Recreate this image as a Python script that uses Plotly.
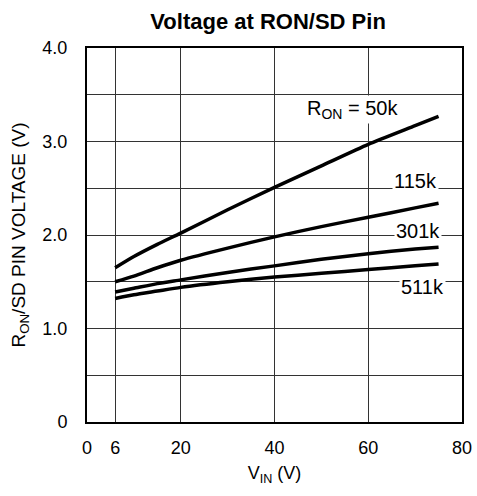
import plotly.graph_objects as go

vin = [6, 10, 15, 20, 30, 40, 50, 60, 70, 75]
v_50k = [1.65, 1.77, 1.90, 2.02, 2.27, 2.51, 2.74, 2.97, 3.17, 3.27]
v_115k = [1.50, 1.56, 1.65, 1.73, 1.86, 1.98, 2.09, 2.19, 2.29, 2.34]
v_301k = [1.39, 1.43, 1.48, 1.52, 1.60, 1.67, 1.74, 1.80, 1.85, 1.87]
v_511k = [1.32, 1.36, 1.40, 1.44, 1.50, 1.55, 1.59, 1.63, 1.67, 1.69]

x_ticks = [0, 6, 20, 40, 60, 80]
y_ticks = [0, 0.5, 1, 1.5, 2, 2.5, 3, 3.5, 4]
y_ticktext = ["0", "", "1.0", "", "2.0", "", "3.0", "", "4.0"]

labels = ["R<sub>ON</sub> = 50k", "115k", "301k", "511k"]
label_x = [56.6, 70.0, 70.7, 71.5]
label_y = [3.34, 2.58, 2.04, 1.44]

FONT = "Liberation Sans, Arial, sans-serif"

fig = go.Figure()
for ys in [v_50k, v_115k, v_301k, v_511k]:
    fig.add_trace(go.Scatter(x=vin, y=ys, mode="lines",
                             line=dict(color="black", width=3.5, shape="spline", smoothing=0.6),
                             showlegend=False, hoverinfo="skip"))

for t, lx, ly in zip(labels, label_x, label_y):
    fig.add_annotation(x=lx, y=ly, text=t, showarrow=False,
                       font=dict(family=FONT, size=20, color="black"),
                       bgcolor="white", borderpad=1)

fig.update_layout(
    width=477, height=496,
    margin=dict(l=87, r=15, t=48, b=74, autoexpand=False),
    paper_bgcolor="white", plot_bgcolor="white",
    title=dict(text="<b>Voltage at RON/SD Pin</b>", x=0.562, xanchor="center",
               y=0.958, yanchor="middle",
               font=dict(family=FONT, size=22, color="black")),
    font=dict(family=FONT, size=18, color="black"),
)
fig.update_xaxes(range=[0, 80], tickvals=x_ticks, ticktext=[str(v) for v in x_ticks],
                 showgrid=True, gridcolor="#333", gridwidth=1,
                 showline=True, linecolor="black", linewidth=2, mirror=True,
                 ticks="outside", ticklen=8, tickcolor="rgba(0,0,0,0)",
                 zeroline=False, automargin=False,
                 title=dict(text="V<sub>IN</sub> (V)", standoff=10,
                            font=dict(family=FONT, size=18)))
fig.update_yaxes(range=[0, 4], tickvals=y_ticks, ticktext=y_ticktext,
                 showgrid=True, gridcolor="#333", gridwidth=1,
                 showline=True, linecolor="black", linewidth=2, mirror=True,
                 ticks="outside", ticklen=14, tickcolor="rgba(0,0,0,0)",
                 zeroline=False, automargin=False,
                 title=dict(text="R<sub>ON</sub>/SD PIN VOLTAGE (V)", standoff=12,
                            font=dict(family=FONT, size=19)))

fig.write_html("out.html", config={"displayModeBar": False},
               post_script="document.body.style.margin='0';")
